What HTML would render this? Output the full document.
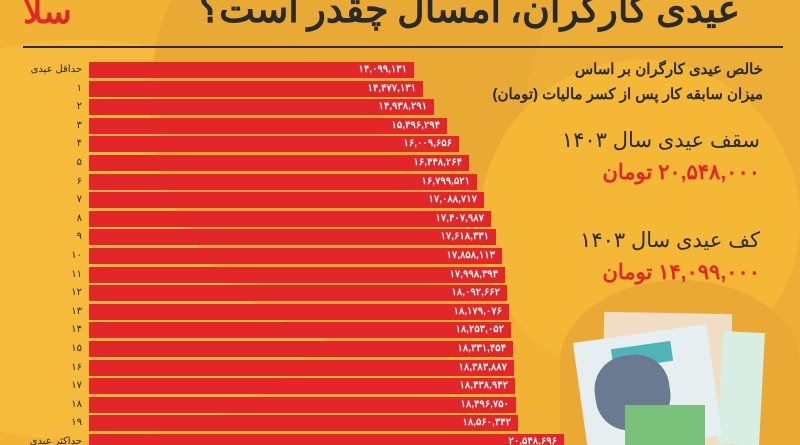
<!DOCTYPE html>
<html><head><meta charset="utf-8"><style>
html,body{margin:0;width:800px;height:445px;overflow:hidden}
body{background:#F2B233;font-family:"Liberation Sans","Noto Sans CJK SC",sans-serif;position:relative}
.c{position:absolute;border-radius:50%}
.bar{position:absolute;left:89px;height:16px;background:#E3262A;color:#fff;font-size:10px;font-weight:bold;line-height:16px;text-align:right;box-sizing:border-box;padding-right:7px;direction:ltr;overflow:hidden}
.lb{position:absolute;right:718px;font-size:10px;color:#2a2a2a;line-height:16px;white-space:nowrap;direction:rtl;overflow:hidden}
.t{position:absolute;right:37px;direction:rtl;white-space:nowrap;color:#2b2b2b}
</style></head><body>
<div class="c" style="left:-200px;top:40px;width:560px;height:400px;background:#F6BB3A"></div>
<div class="c" style="left:150px;top:-150px;width:500px;height:500px;background:#E9A935"></div>
<div class="c" style="left:520px;top:-120px;width:420px;height:560px;background:#ECAE36"></div>
<div class="c" style="left:480px;top:60px;width:320px;height:320px;background:#F4B836"></div>
<div class="c" style="left:560px;top:280px;width:240px;height:165px;border-radius:50% 50% 0 0;background:#EAA935"></div>
<div style="position:absolute;left:23px;top:-4px;width:100px;height:32px;color:#E3262A;font-size:34px;font-weight:bold;line-height:32px">ﺳﻠﺎ</div>
<div style="position:absolute;right:60px;top:-22px;font-size:38px;font-weight:bold;color:#2a2a2a;direction:rtl;font-family:'Noto Sans CJK SC',sans-serif">عیدی کارگران، امسال چقدر است؟</div>
<div style="position:absolute;left:23px;top:46px;width:760px;height:2px;background:#2a2a2a"></div>

<div id="bars"></div>
<script>
var v=["۱۴,۰۹۹,۱۳۱","۱۴,۴۷۷,۱۳۱","۱۴,۹۳۸,۲۹۱","۱۵,۴۹۶,۲۹۴","۱۶,۰۰۹,۶۵۶","۱۶,۴۴۸,۲۶۴","۱۶,۷۹۹,۵۲۱","۱۷,۰۸۸,۷۱۷","۱۷,۴۰۷,۹۸۷","۱۷,۶۱۸,۳۳۱","۱۷,۸۵۸,۱۱۳","۱۷,۹۹۸,۳۹۳","۱۸,۰۹۲,۶۶۲","۱۸,۱۷۹,۰۷۶","۱۸,۲۵۳,۰۵۲","۱۸,۳۳۱,۴۵۴","۱۸,۳۸۳,۸۸۷","۱۸,۴۳۸,۹۴۲","۱۸,۴۹۶,۷۵۰","۱۸,۵۶۰,۳۴۲","۲۰,۵۴۸,۶۹۶"];
var n=[14.099,14.477,14.938,15.496,16.010,16.448,16.800,17.089,17.408,17.618,17.858,17.998,18.093,18.179,18.253,18.331,18.384,18.439,18.497,18.560,20.549];
var fa="۰۱۲۳۴۵۶۷۸۹",h="";
for(var i=0;i<21;i++){var ty=Math.round(62+i*18.6),end=414+(n[i]-14.099)*23.3,hh=Math.min(16,445-ty);
var lab=i==0?"حداقل عیدی":i==20?"حداکثر عیدی":String(i).split("").map(function(d){return fa[+d]}).join("");
h+='<div class="bar" style="top:'+ty+'px;height:'+hh+'px;width:'+Math.round(end-89)+'px">'+v[i]+'</div><div class="lb" style="top:'+ty+'px;height:'+hh+'px">'+lab+'</div>';}
document.getElementById("bars").innerHTML=h;
</script>

<div class="t" style="top:60px;font-size:15px;font-weight:bold">خالص عیدی کارگران بر اساس</div>
<div class="t" style="top:85px;font-size:15px;font-weight:bold">میزان سابقه کار پس از کسر مالیات (تومان)</div>
<div class="t" style="top:128px;font-size:21px;right:40px">سقف عیدی سال ۱۴۰۳</div>
<div class="t" style="top:160px;font-size:21px;font-weight:bold;color:#E3262A;right:40px">۲۰,۵۴۸,۰۰۰ تومان</div>
<div class="t" style="top:228px;font-size:21px;right:40px">کف عیدی سال ۱۴۰۳</div>
<div class="t" style="top:260px;font-size:21px;font-weight:bold;color:#E3262A;right:40px">۱۴,۰۹۹,۰۰۰ تومان</div>

<div style="position:absolute;left:603px;top:313px;width:128px;height:132px;background:#F1DCC4;transform:rotate(1deg)"></div>
<div style="position:absolute;left:720px;top:332px;width:42px;height:113px;background:#D8EEE2;transform:rotate(3deg)"></div>
<div style="position:absolute;left:580px;top:333px;width:135px;height:112px;background:#E6EEF0;transform:rotate(-8deg)"></div>
<div style="position:absolute;left:612px;top:345px;width:60px;height:20px;background:#4FB4B8;transform:rotate(-8deg)"></div>
<div style="position:absolute;left:595px;top:355px;width:75px;height:75px;border-radius:45%;background:#6A7A90;transform:rotate(-8deg)"></div>
<div style="position:absolute;left:625px;top:405px;width:80px;height:40px;background:#79C07A"></div>
</body></html>
